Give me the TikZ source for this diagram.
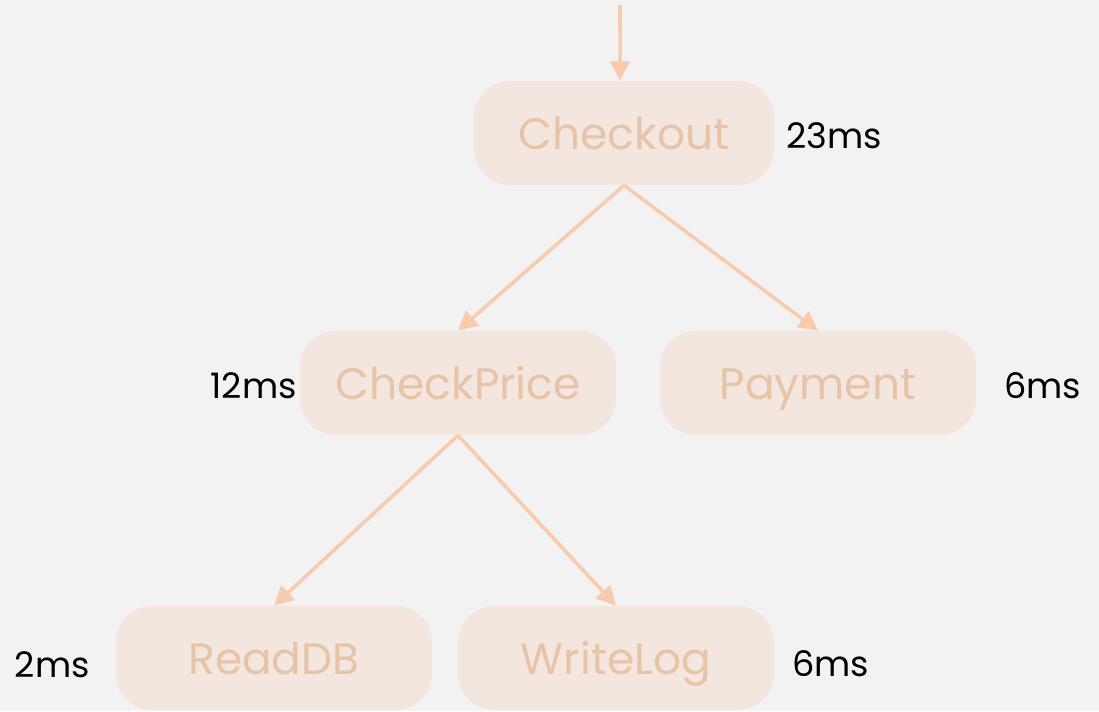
\documentclass[tikz,border=0pt]{standalone}
\usepackage{fontspec}
\setmainfont{Poppins}
\usetikzlibrary{arrows.meta}

\definecolor{bgGray}{HTML}{F2F2F2}
\definecolor{spanFill}{HTML}{F2E6DE}
\definecolor{spanText}{HTML}{E8C4A6}
\definecolor{callLine}{HTML}{F8CBAD}

\begin{document}
\begin{tikzpicture}[x=0.02cm, y=-0.02cm,
    span/.style={rounded corners=0.72cm, fill=spanFill, text=spanText, inner sep=0pt,
        minimum height=2.08cm, text height=19pt, text depth=0pt,
        font=\fontsize{25}{30}\selectfont},
    time/.style={inner sep=0pt, text=black, text height=14pt, text depth=0pt,
        font=\fontsize{20}{24}\selectfont},
    call/.style={draw=callLine, line width=2pt, -{Triangle[length=11pt, width=11pt]}}]

   % background, fixes the page size
   \fill[bgGray] (0,0) rectangle (1099,711);

   % the spans
   \node[span, minimum width=6cm]    (Checkout)   at (624,133) {Checkout};
   \node[span, minimum width=6.32cm] (CheckPrice) at (458,383) {CheckPrice};
   \node[span, minimum width=6.32cm] (Payment)    at (818,383) {Payment};
   \node[span, minimum width=6.32cm] (ReadDB)     at (274,658) {ReadDB};
   \node[span, minimum width=6.32cm] (WriteLog)   at (616,658) {WriteLog};

   % durations
   \node[time, anchor=west] (tCheckout)   at (786,136) {23ms};
   \node[time, anchor=east] (tCheckPrice) at (297,386) {12ms};
   \node[time, anchor=west] (tPayment)    at (1004,386) {6ms};
   \node[time, anchor=east] (tReadDB)     at (90,665) {2ms};
   \node[time, anchor=west] (tWriteLog)   at (792,664) {6ms};

   % calls
   \coordinate (in) at (620,5);
   \draw[call] (in) -- ([xshift=-0.08cm]Checkout.north);
   \foreach \from/\to in {Checkout/CheckPrice, Checkout/Payment, CheckPrice/ReadDB, CheckPrice/WriteLog}
       \draw[call] (\from.south) -- (\to.north);

\end{tikzpicture}
\end{document}
